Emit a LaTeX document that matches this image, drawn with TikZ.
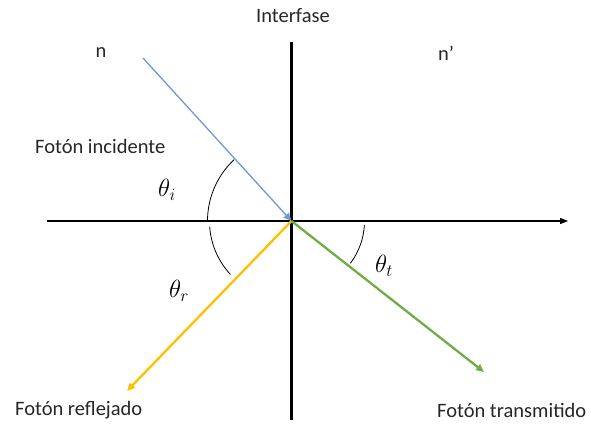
\documentclass[tikz,border=0pt]{standalone}
\usepackage{fontspec}
\setmainfont{Carlito}
\usetikzlibrary{arrows.meta}
\definecolor{incblue}{HTML}{7097D8}
\definecolor{refgold}{HTML}{FFC000}
\definecolor{trgreen}{HTML}{70AD47}
\begin{document}
\begin{tikzpicture}[x=1pt,y=-1pt,
  lbl/.style={inner sep=0pt, text=black!85, font=\fontsize{20.5}{24}\selectfont},
  ang/.style={inner sep=0pt, font=\fontsize{24}{28}\selectfont},
  ray/.style={-{Triangle[length=8pt,width=7pt]}},
  arcline/.style={black, line width=0.8pt}]
\useasboundingbox (0,0) rectangle (591,423);
\coordinate (O) at (291.5,221);
\coordinate (vt) at (291.5,42);
\coordinate (vb) at (291.5,420);
\coordinate (hl) at (47,221);
\coordinate (hr) at (568,221);
\coordinate (inc) at (143,58);
\coordinate (refl) at (127,391);
\coordinate (trans) at (484,372);
% axes
\draw[line width=1.2pt, -{Triangle[length=8pt,width=6pt]}] (hl) -- (hr);
\draw[line width=3.5pt] (vt) -- (vb);
% rays
\draw[ray, incblue, line width=1.3pt] (inc) -- (O);
\draw[ray, refgold, line width=2.3pt] (O) -- (refl);
\draw[ray, trgreen, line width=2.3pt] (O) -- (trans);
% angle arcs
\draw[arcline] (O) ++(180:84) arc[start angle=180, end angle=227, radius=84];
\draw[arcline] (O) ++(176:82) arc[start angle=176, end angle=137, radius=78];
\draw[arcline] (O) ++(3:73) arc[start angle=3, end angle=37, radius=70];
% labels
\node[lbl] (tinter) at (293,16) {Interfase};
\node[lbl] (tn) at (101,53) {n};
\node[lbl] (tnp) at (446,53) {n’};
\node[lbl, anchor=west] (tinc) at (35,146) {Fotón incidente};
\node[lbl, anchor=west] (trefl) at (15,410) {Fotón reflejado};
\node[lbl, anchor=west] (ttrans) at (437,410) {Fotón transmitido};
\node[ang] (thi) at (167,190) {$\theta_i$};
\node[ang] (thr) at (179,291) {$\theta_r$};
\node[ang] (tht) at (384,266) {$\theta_t$};
\end{tikzpicture}
\end{document}
